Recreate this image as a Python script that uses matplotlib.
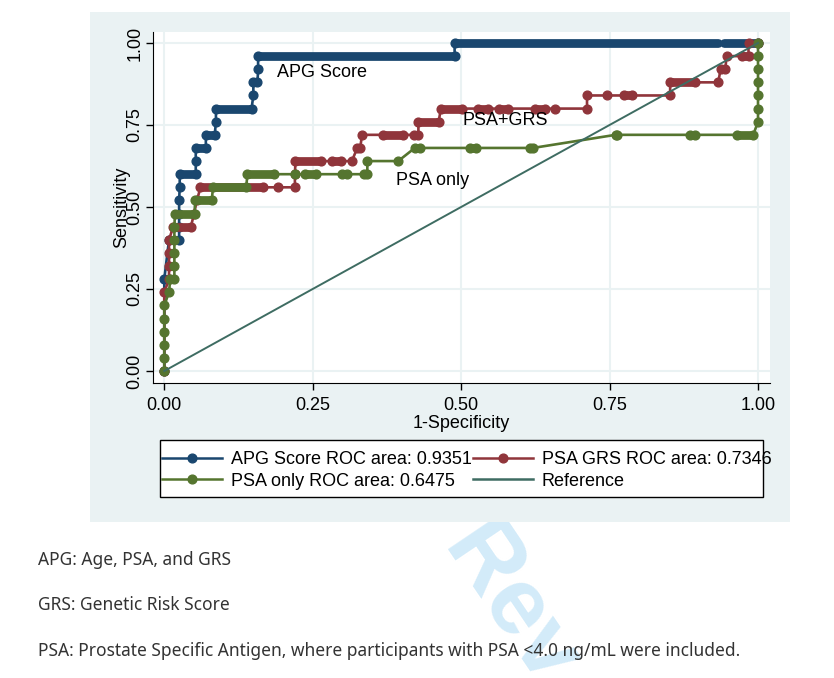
import matplotlib.pyplot as plt
from matplotlib.lines import Line2D
from matplotlib.patches import Rectangle

# ROC points (1-specificity, sensitivity)
apg_fpr = [0, 0, 0.008, 0.025, 0.025, 0.025, 0.025, 0.026, 0.026, 0.053, 0.053, 0.053, 0.070,
           0.070, 0.085, 0.087, 0.087, 0.147, 0.150, 0.150, 0.157, 0.158, 0.158, 0.489, 0.489, 1.0]
apg_tpr = [0, 0.28, 0.40, 0.40, 0.44, 0.48, 0.52, 0.56, 0.60, 0.60, 0.64, 0.68, 0.68,
           0.72, 0.72, 0.76, 0.80, 0.80, 0.84, 0.88, 0.88, 0.92, 0.96, 0.96, 1.00, 1.00]
# stretches where the points sit so close that they form a solid band: (sens, from, to)
apg_runs = [(0.40, 0.008, 0.025), (0.60, 0.026, 0.053), (0.68, 0.053, 0.070),
            (0.72, 0.070, 0.085), (0.80, 0.087, 0.147), (0.96, 0.158, 0.489),
            (1.00, 0.489, 0.932), (1.00, 0.942, 1.0)]

grs_fpr = [0, 0, 0.008, 0.008, 0.008, 0.008, 0.015, 0.045, 0.050, 0.055, 0.061, 0.166, 0.192,
           0.220, 0.220, 0.221, 0.264, 0.282, 0.298, 0.316, 0.325, 0.330, 0.333, 0.369, 0.402,
           0.421, 0.428, 0.428, 0.462, 0.466, 0.501, 0.529, 0.545, 0.563, 0.579, 0.625, 0.641,
           0.658, 0.712, 0.712, 0.745, 0.774, 0.787, 0.852, 0.852, 0.894, 0.933, 0.937, 0.945,
           0.947, 0.973, 0.984, 0.984, 1.0]
grs_tpr = [0, 0.24, 0.28, 0.32, 0.36, 0.40, 0.44, 0.44, 0.48, 0.52, 0.56, 0.56, 0.56,
           0.56, 0.60, 0.64, 0.64, 0.64, 0.64, 0.64, 0.68, 0.68, 0.72, 0.72, 0.72,
           0.72, 0.72, 0.76, 0.76, 0.80, 0.80, 0.80, 0.80, 0.80, 0.80, 0.80, 0.80,
           0.80, 0.80, 0.84, 0.84, 0.84, 0.84, 0.84, 0.88, 0.88, 0.88, 0.92, 0.92,
           0.96, 0.96, 0.96, 1.00, 1.00]
grs_runs = [(0.44, 0.015, 0.045), (0.56, 0.061, 0.166), (0.64, 0.221, 0.264),
            (0.64, 0.282, 0.298), (0.72, 0.369, 0.402), (0.76, 0.428, 0.462),
            (0.80, 0.466, 0.501), (0.80, 0.529, 0.545), (0.80, 0.563, 0.579),
            (0.80, 0.625, 0.641), (0.84, 0.774, 0.787), (0.88, 0.852, 0.894),
            (0.96, 0.973, 0.984)]

psa_fpr = [0, 0, 0, 0, 0, 0, 0.008, 0.010, 0.017, 0.017, 0.017, 0.017, 0.017, 0.018, 0.051,
           0.052, 0.080, 0.082, 0.138, 0.140, 0.184, 0.220, 0.237, 0.256, 0.299, 0.307, 0.336,
           0.342, 0.342, 0.394, 0.422, 0.430, 0.515, 0.525, 0.616, 0.621, 0.760, 0.763, 0.886,
           0.894, 0.964, 0.992, 1.0, 1.0, 1.0, 1.0, 1.0, 1.0, 1.0]
psa_tpr = [0, 0.04, 0.08, 0.12, 0.16, 0.20, 0.24, 0.28, 0.28, 0.32, 0.36, 0.40, 0.44, 0.48, 0.48,
           0.52, 0.52, 0.56, 0.56, 0.60, 0.60, 0.60, 0.60, 0.60, 0.60, 0.60, 0.60,
           0.60, 0.64, 0.64, 0.68, 0.68, 0.68, 0.68, 0.68, 0.68, 0.72, 0.72, 0.72,
           0.72, 0.72, 0.72, 0.76, 0.80, 0.84, 0.88, 0.92, 0.96, 1.00]
psa_runs = [(0.48, 0.018, 0.051), (0.52, 0.052, 0.080), (0.56, 0.082, 0.138),
            (0.60, 0.140, 0.184), (0.60, 0.237, 0.256), (0.68, 0.515, 0.525),
            (0.72, 0.964, 0.992)]

legend_labels = ["APG Score ROC area: 0.9351", "PSA GRS ROC area: 0.7346",
                 "PSA only ROC area: 0.6475", "Reference"]
ticks = [0, 0.25, 0.5, 0.75, 1.0]
tick_labels = ["0.00", "0.25", "0.50", "0.75", "1.00"]
notes = ["APG: Age, PSA, and GRS",
         "GRS: Genetic Risk Score",
         "PSA: Prostate Specific Antigen, where participants with PSA <4.0 ng/mL were included."]

c_apg = "#1a476f"
c_grs = "#90353b"
c_psa = "#55752f"
c_ref = "#3e6c62"
panel = "#eaf2f3"
W, H = 834, 678

plt.rcParams["font.family"] = ["Liberation Sans", "DejaVu Sans"]

fig = plt.figure(figsize=(W / 100, H / 100), dpi=100)

# grey graph region behind the plot
fig.patches.append(Rectangle((90 / W, 1 - 522 / H), 700 / W, 510 / H, transform=fig.transFigure,
                             facecolor=panel, edgecolor="none", zorder=0))
# watermark under the panel (cut by the page edge, as in the source)
fig.text(440 / W, 1 - 548 / H, "Rev", fontsize=68, fontweight="bold", color="#d3ebf9",
         rotation=-56, rotation_mode="anchor", ha="left", va="baseline", zorder=-1)

ax = fig.add_axes([153 / W, 1 - 383 / H, (770 - 153) / W, (383 - 32) / H], zorder=1)
ax.set_xlim(-0.019, 1.0202)
ax.set_ylim(-0.0366, 1.0335)
ax.spines["top"].set_visible(False)
ax.spines["right"].set_visible(False)
ax.set_xticks(ticks, tick_labels)
ax.set_yticks(ticks, tick_labels)
ax.tick_params(direction="out", length=5, width=1, labelsize=13, pad=5)
ax.tick_params(axis="y", pad=2)
for t in ax.get_yticklabels():
    t.set_rotation(90)
    t.set_va("center")
ax.grid(True, color=panel, lw=1.5)
ax.set_axisbelow(True)
ax.set_xlabel("1-Specificity", fontsize=13, labelpad=1)
ax.set_ylabel("Sensitivity", fontsize=13, labelpad=-3)

ms = 6.3
for fpr, tpr, runs, col, z in [(apg_fpr, apg_tpr, apg_runs, c_apg, 2),
                               (grs_fpr, grs_tpr, grs_runs, c_grs, 3),
                               (psa_fpr, psa_tpr, psa_runs, c_psa, 4)]:
    ax.plot(fpr, tpr, color=col, lw=1.9, marker="o", ms=ms, mfc=col, mec=col, zorder=z)
    for y, x0, x1 in runs:
        ax.plot([x0, x1], [y, y], color=col, lw=ms, solid_capstyle="round", zorder=z)
ax.plot([0, 1], [0, 1], color=c_ref, lw=1.4, zorder=5)

ax.text(0.19, 0.909, "APG Score", fontsize=13, va="center", ha="left")
ax.text(0.503, 0.765, "PSA+GRS", fontsize=13, va="center", ha="left")
ax.text(0.39, 0.582, "PSA only", fontsize=13, va="center", ha="left")

# legend: box drawn by hand, entries placed inside it
fig.patches.append(Rectangle((160 / W, 1 - 497 / H), 603 / W, 57 / H, transform=fig.transFigure,
                             facecolor="white", edgecolor="black", lw=1, zorder=2))
handles = [Line2D([], [], color=c_apg, lw=1.8, marker="o", ms=ms),
           Line2D([], [], color=c_grs, lw=1.8, marker="o", ms=ms),
           Line2D([], [], color=c_psa, lw=1.8, marker="o", ms=ms),
           Line2D([], [], color=c_ref, lw=1.8)]
order = [0, 2, 1, 3]
leg = fig.legend([handles[i] for i in order], [legend_labels[i] for i in order], ncol=2,
                 loc="upper left", bbox_to_anchor=(162 / W, 1 - 451 / H), frameon=False,
                 fontsize=13, handlelength=3.3, handletextpad=0.5, columnspacing=0.1,
                 labelspacing=0.25, borderpad=0, borderaxespad=0)
leg.set_zorder(3)

for i, s in enumerate(notes):
    fig.text(38 / W, 1 - (560 + 45.5 * i) / H, s, fontsize=12.5, color="#333333",
             family=["Noto Sans", "DejaVu Sans"], va="center", ha="left")

fig.savefig("out.png", dpi=100)
